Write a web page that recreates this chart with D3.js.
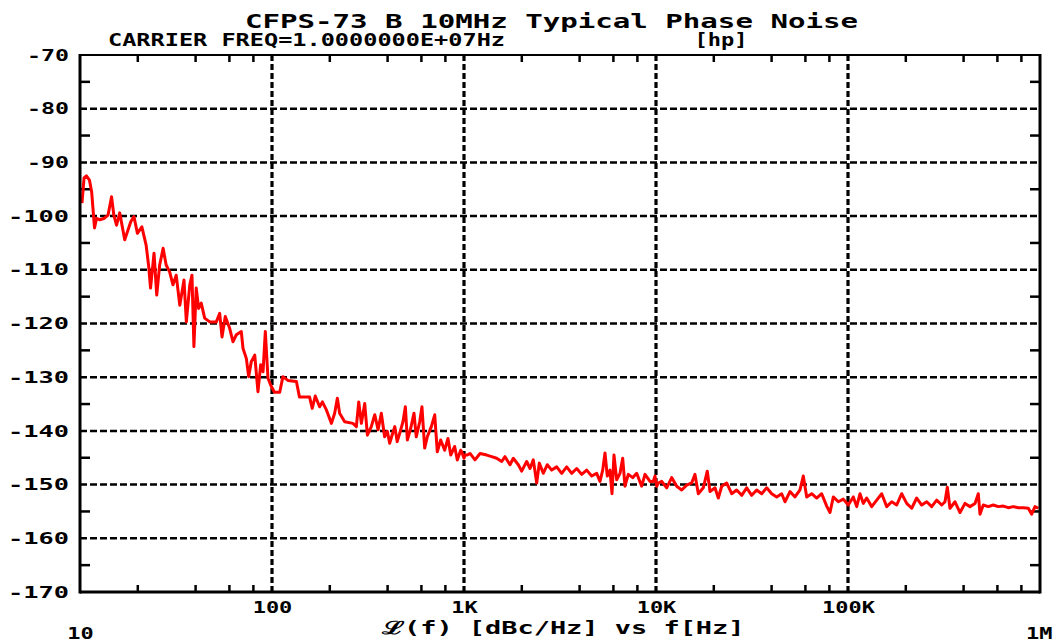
<!DOCTYPE html>
<html>
<head>
<meta charset="utf-8">
<script src="https://cdn.jsdelivr.net/npm/d3@7"></script>
<style>
  body { margin: 0; background: #fff; }
  svg text { font-family: "DejaVu Sans Mono", monospace; font-weight: bold; fill: #000; }
</style>
</head>
<body>
<div id="figure"></div>
<script>
// phase noise readings, [offset Hz, dBc/Hz], one array per decade
var decade1 = [[10.24,-97.6],[10.5,-92.9],[10.8,-92.5],[11.2,-93.3],[11.5,-95.5],[11.9,-102.2],[12.2,-100.4],[12.7,-100.7],[13.4,-100.4],[14.0,-99.8],[14.6,-96.4],[15.0,-99.8],[15.5,-101.7],[16.1,-99.4],[17.1,-104.4],[18.4,-101.0],[19.1,-100.1],[19.9,-103.2],[21.0,-102.0],[22.1,-105.4],[22.8,-109.4],[23.3,-113.4],[24.3,-106.9],[25.1,-114.7],[26.0,-109.1],[27.1,-106.0],[28.1,-109.1],[29.3,-110.4],[30.5,-112.8],[31.7,-111.0],[33.1,-116.6],[34.8,-111.9],[35.8,-119.7],[37.3,-112.8],[38.3,-111.0],[39.2,-124.3],[40.3,-113.4],[41.5,-117.2],[42.8,-116.2],[44.6,-119.0],[47.4,-119.7],[51.3,-119.7],[53.4,-118.1],[54.9,-122.5],[57.1,-118.7],[60.2,-120.9],[62.6,-123.4],[65.2,-122.1],[69.2,-121.5],[70.6,-124.6],[73.5,-126.5],[75.6,-129.9],[78.0,-127.1],[81.3,-125.9],[84.5,-132.7],[87.3,-127.7],[89.8,-129.0],[92.3,-121.5],[95.3,-130.2],[98.5,-131.5]];
var decade2 = [[103,-132.8],[109.7,-132.8],[114,-129.9],[121,-130.6],[134,-130.8],[139,-133.7],[157,-133.7],[162,-135.8],[168,-133.5],[177,-135.5],[183,-134.6],[192,-136.1],[204,-138.6],[212,-136.7],[219,-133.9],[225,-136.7],[239,-138.3],[264,-138.6],[275,-139.2],[283,-134.6],[292,-138.6],[304,-134.9],[314,-140.8],[329,-139.2],[343,-137.0],[357,-139.8],[371,-136.7],[386,-141.1],[399,-140.1],[410,-142.3],[422,-140.8],[436,-139.2],[449,-142.0],[462,-140.5],[481,-138.3],[495,-135.5],[507,-141.7],[528,-139.5],[549,-136.7],[564,-141.1],[588,-138.3],[604,-135.5],[624,-143.2],[644,-141.1],[676,-139.2],[704,-137.0],[726,-143.9],[756,-141.7],[793,-143.6],[825,-141.4],[853,-144.5],[894,-142.9],[923,-145.4],[961,-143.6],[973,-143.9]];
var decade3 = [[1000,-145.1],[1012,-144.5],[1040,-144.5],[1075,-144.2],[1141,-145.4],[1212,-144.2],[1313,-144.5],[1394,-144.8],[1480,-145.1],[1572,-145.7],[1635,-144.8],[1736,-146.3],[1806,-145.1],[1918,-146.3],[1997,-147.5],[2121,-145.7],[2207,-147.0],[2296,-145.4],[2391,-149.7],[2467,-146.0],[2588,-147.9],[2715,-146.3],[2863,-147.3],[3039,-146.7],[3227,-147.9],[3427,-146.7],[3638,-147.9],[3863,-147.0],[4102,-148.1],[4355,-147.3],[4624,-148.4],[4910,-147.9],[5108,-149.4],[5277,-147.3],[5424,-144.1],[5576,-148.4],[5759,-147.3],[5899,-151.7],[6042,-144.5],[6242,-149.1],[6493,-147.9],[6707,-145.1],[6894,-150.3],[7173,-148.1],[7562,-148.7],[7932,-147.9],[8423,-150.3],[8764,-148.1],[9304,-149.4],[9680,-149.4],[9880,-148.4]];
var decade4 = [[10084,-150.3],[10280,-149.7],[10708,-149.4],[11370,-150.6],[12070,-148.7],[12820,-150.3],[13610,-151.0],[14450,-150.1],[15340,-149.7],[15960,-148.1],[16610,-151.7],[17630,-150.6],[18500,-147.5],[19110,-151.3],[20290,-150.6],[21110,-152.5],[21990,-150.3],[23340,-149.7],[24790,-151.7],[26320,-151.0],[27950,-152.0],[29670,-150.6],[31510,-152.0],[33460,-151.0],[35520,-151.7],[37720,-150.6],[40050,-151.7],[42520,-152.3],[45150,-151.7],[46970,-153.2],[49870,-151.3],[52960,-152.3],[56230,-151.0],[58500,-148.4],[60940,-152.3],[64700,-151.7],[68700,-152.5],[72940,-151.7],[77450,-154.0],[80580,-155.2],[83830,-152.3],[89010,-153.2],[94510,-152.7],[100300,-153.8]];
var decade5 = [[106560,-152.3],[111000,-154.1],[115500,-151.7],[120100,-153.5],[125100,-152.5],[132900,-154.1],[141100,-152.9],[149800,-151.7],[159100,-154.1],[168900,-153.2],[179300,-153.8],[190400,-151.7],[202200,-153.5],[214700,-154.4],[227900,-152.5],[242000,-153.8],[257000,-153.2],[272800,-154.1],[289700,-152.9],[307600,-153.8],[320000,-153.2],[329000,-150.5],[339800,-154.4],[360800,-153.2],[383100,-155.2],[406800,-153.5],[431900,-154.1],[458600,-153.5],[477100,-151.7],[486900,-155.5],[506600,-153.8],[537900,-154.1],[571100,-153.8],[606400,-154.1],[643900,-154.0],[683700,-154.3],[725900,-154.1],[770800,-154.3],[818400,-154.3],[869000,-154.4],[905100,-155.5],[941700,-154.1],[979800,-154.4]];

var yTicks = [-70,-80,-90,-100,-110,-120,-130,-140,-150,-160,-170];
var yMinor = [-75,-85,-95,-105,-115,-125,-135,-145,-155,-165];
var xMajor = [100,1e3,1e4,1e5];
var xMajorLabels = ["100","1K","10K","100K"];
var xEnds = [10,1e6];
var xEndLabels = ["10","1M"];
var minorMult = [2,4,6,8];

var W = 1058, H = 643;
var pLeft = 80, pRight = 1040, pTop = 55, pBottom = 592;

var x = d3.scaleLog().domain([10,1e6]).range([pLeft,pRight]);
var y = d3.scaleLinear().domain([-170,-70]).range([pBottom,pTop]);

var svg = d3.select("#figure").append("svg").attr("width",W).attr("height",H);

// grid
svg.selectAll("line.hgrid")
	.data(yTicks.slice(1,-1))
	.enter().append("line")
	.attr("x1",pLeft).attr("x2",pRight)
	.attr("y1",function(d){return y(d);}).attr("y2",function(d){return y(d);})
	.attr("stroke","#000").attr("stroke-width",2.5).attr("stroke-dasharray","7,3");

svg.selectAll("line.vgrid")
	.data(xMajor)
	.enter().append("line")
	.attr("x1",function(d){return x(d);}).attr("x2",function(d){return x(d);})
	.attr("y1",pTop).attr("y2",pBottom)
	.attr("stroke","#000").attr("stroke-width",3.2).attr("stroke-dasharray","6,3");

// minor ticks
var xMinor = [];
[10,100,1e3,1e4,1e5].forEach(function(dec){ minorMult.forEach(function(m){ xMinor.push(dec*m); }); });

svg.selectAll("line.xminB").data(xMinor).enter().append("line")
	.attr("x1",function(d){return x(d);}).attr("x2",function(d){return x(d);})
	.attr("y1",pBottom).attr("y2",pBottom-7)
	.attr("stroke","#000").attr("stroke-width",2.5);
svg.selectAll("line.xminT").data(xMinor).enter().append("line")
	.attr("x1",function(d){return x(d);}).attr("x2",function(d){return x(d);})
	.attr("y1",pTop).attr("y2",pTop+7)
	.attr("stroke","#000").attr("stroke-width",2.5);
svg.selectAll("line.yminL").data(yMinor).enter().append("line")
	.attr("x1",pLeft).attr("x2",pLeft+10)
	.attr("y1",function(d){return y(d);}).attr("y2",function(d){return y(d);})
	.attr("stroke","#000").attr("stroke-width",2.5);
svg.selectAll("line.yminR").data(yMinor).enter().append("line")
	.attr("x1",pRight).attr("x2",pRight-10)
	.attr("y1",function(d){return y(d);}).attr("y2",function(d){return y(d);})
	.attr("stroke","#000").attr("stroke-width",2.5);

// trace
var trace = decade1.concat(decade2,decade3,decade4,decade5);
var line = d3.line()
	.x(function(d){return x(d[0]);})
	.y(function(d){return y(d[1]);});
svg.append("path")
	.datum(trace)
	.attr("d",line)
	.attr("fill","none")
	.attr("stroke","#ff0000")
	.attr("stroke-width",3)
	.attr("stroke-linejoin","round");

// frame
svg.append("line").attr("x1",pLeft).attr("x2",pRight).attr("y1",pTop).attr("y2",pTop).attr("stroke","#000").attr("stroke-width",2);
svg.append("line").attr("x1",pLeft).attr("x2",pRight).attr("y1",pBottom).attr("y2",pBottom).attr("stroke","#000").attr("stroke-width",3);
svg.append("line").attr("x1",pLeft).attr("x2",pLeft).attr("y1",pTop-1).attr("y2",pBottom+1.5).attr("stroke","#000").attr("stroke-width",3);
svg.append("line").attr("x1",pRight).attr("x2",pRight).attr("y1",pTop-1).attr("y2",pBottom+1.5).attr("stroke","#000").attr("stroke-width",3);

// y labels
var yAxis = svg.append("g").attr("transform","translate("+pLeft+",0)")
	.call(d3.axisLeft(y).tickValues(yTicks).tickSize(0).tickPadding(11).tickFormat(function(d){return String(d);}));
yAxis.select(".domain").remove();
yAxis.selectAll("text")
	.attr("font-size",16)
	.attr("font-family","DejaVu Sans Mono")
	.attr("textLength",function(d){return String(d).length==3 ? 42 : 61;})
	.attr("lengthAdjust","spacingAndGlyphs");

// x labels
var xAxis = svg.append("g").attr("transform","translate(0,"+pBottom+")")
	.call(d3.axisBottom(x).tickValues(xMajor).tickSize(0).tickPadding(10)
		.tickFormat(function(d,i){return xMajorLabels[i];}));
xAxis.select(".domain").remove();
var xAxis2 = svg.append("g").attr("transform","translate(0,"+pBottom+")")
	.call(d3.axisBottom(x).tickValues(xEnds).tickSize(0).tickPadding(36)
		.tickFormat(function(d,i){return xEndLabels[i];}));
xAxis2.select(".domain").remove();
xAxis2.selectAll("text").filter(function(d){return d===1e6;}).attr("text-anchor","end").attr("dx",12);
[xAxis, xAxis2].forEach(function(g){
	g.selectAll("text")
		.attr("font-size",16)
		.attr("font-family","DejaVu Sans Mono")
		.attr("textLength",function(){return this.textContent.length*13.2;})
		.attr("lengthAdjust","spacingAndGlyphs");
});

// titles
svg.append("text").attr("x",551.5).attr("y",28).attr("text-anchor","middle")
	.attr("font-size",19).attr("textLength",613).attr("lengthAdjust","spacingAndGlyphs")
	.text("CFPS-73 B 10MHz Typical Phase Noise");
svg.append("text").attr("x",306.5).attr("y",46).attr("text-anchor","middle")
	.attr("font-size",17).attr("textLength",397).attr("lengthAdjust","spacingAndGlyphs")
	.text("CARRIER FREQ=1.0000000E+07Hz");
svg.append("text").attr("x",721).attr("y",46).attr("text-anchor","middle")
	.attr("font-size",17).attr("textLength",53).attr("lengthAdjust","spacingAndGlyphs")
	.text("[hp]");
svg.append("text").attr("x",563).attr("y",634).attr("text-anchor","middle")
	.attr("font-size",18).attr("textLength",363).attr("lengthAdjust","spacingAndGlyphs")
	.text("ℒ(f) [dBc/Hz] vs f[Hz]");
</script>
</body>
</html>
